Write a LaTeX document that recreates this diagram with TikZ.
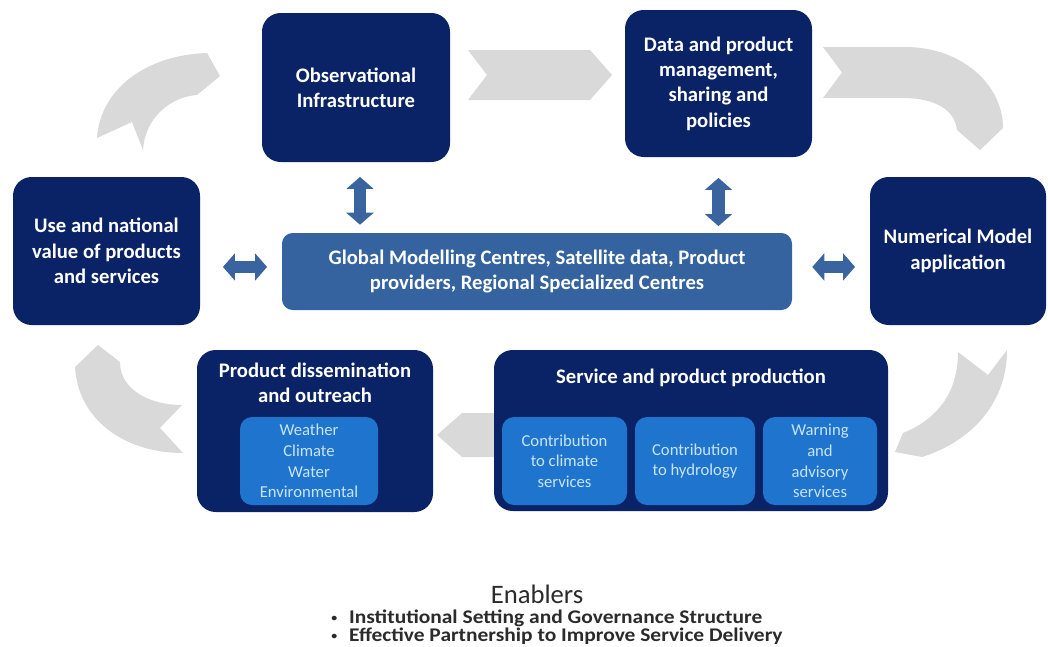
\documentclass[tikz,border=0pt]{standalone}
\usepackage{fontspec}
\setmainfont{Carlito}
\newfontfamily\widefont[FakeStretch=1.11]{Carlito}
\usetikzlibrary{arrows.meta}
\definecolor{navy}{HTML}{0A2366}
\definecolor{midblue}{HTML}{34639F}
\definecolor{lightblue}{HTML}{1F74CD}
\definecolor{pale}{HTML}{C8E4FA}
\definecolor{grayarr}{HTML}{D9D9D9}
\definecolor{dblue}{HTML}{3A64A0}
\definecolor{txt}{HTML}{2B2B2B}
\newcommand{\smallbullet}{\raisebox{1.6pt}{\fontsize{8}{8}\selectfont\textbullet}}
\begin{document}
\begin{tikzpicture}[x=0.75pt,y=-0.75pt,
  box/.style={fill=navy, rounded corners=14pt, text=white, align=center, inner sep=0pt,
    font=\fontsize{15.5}{19}\selectfont\bfseries},
  boxtitle/.style={text=white, align=center, inner sep=0pt, font=\fontsize{15.5}{19}\selectfont\bfseries},
  inbox/.style={fill=lightblue, rounded corners=9pt, text=pale, align=center, inner sep=0pt,
    font=\fontsize{12.5}{15.5}\selectfont},
  globbox/.style={fill=midblue, rounded corners=8pt, text=white, align=center, inner sep=0pt,
    font=\fontsize{15.5}{19}\selectfont\bfseries},
  grayblk/.style={fill=grayarr},
  dbl/.style={draw=dblue, line width=9.5pt, {Triangle[length=9pt,width=20pt]}-{Triangle[length=9pt,width=20pt]}}
]
\useasboundingbox (0,0) rectangle (1048,646);
\fill[white] (0,0) rectangle (1048,646);

% gray cycle arrows
\fill[grayblk] (468,50) -- (590,50) -- (612,75) -- (590,100) -- (468,100) -- (487,75) -- cycle;
\fill[grayblk] (823,47) -- (905,47) .. controls (962,47) and (1003,85) .. (1003,128) -- (980,150) -- (957,130)
  .. controls (955,110) and (935,98) .. (903,98) -- (823,98) -- (842,72.5) -- cycle;
\fill[grayblk] (958,352) -- (988,375) -- (1007,350) .. controls (1007,400) and (975,440) .. (922,457)
  -- (895,452) -- (903,433) .. controls (935,420) and (958,395) .. (958,352) -- cycle;
\fill[grayblk] (437,435) -- (462,413) -- (560,413) -- (540,435) -- (560,457) -- (462,457) -- cycle;
\fill[grayblk] (98,345) -- (120,362) .. controls (120,390) and (150,405) .. (182,405) -- (160,428) -- (183,453)
  .. controls (125,453) and (78,420) .. (75,367) -- cycle;
\fill[grayblk] (97,138) .. controls (100,90) and (145,55) .. (207,53) -- (220,76) -- (197,95)
  .. controls (170,97) and (145,118) .. (143,150) -- (132,122) -- cycle;

% main boxes
\node[box, minimum width=141pt, minimum height=111.75pt] (obs) at (356,87.5) {Observational\\Infrastructure};
\node[box, minimum width=140.25pt, minimum height=110.25pt] (data) at (718.5,83.5) {Data and product\\management,\\sharing and\\policies};
\node[box, minimum width=140.25pt, minimum height=111pt] (use) at (106.5,251) {Use and national\\value of products\\and services};
\node[box, minimum width=132pt, minimum height=111pt] (num) at (958,251) {Numerical Model\\application};
\node[globbox, minimum width=382.5pt, minimum height=57.75pt] (glob) at (537,271.5) {Global Modelling Centres, Satellite data, Product\\providers, Regional Specialized Centres};

\node[box, minimum width=177pt, minimum height=121.5pt] (diss) at (315,431) {};
\node[boxtitle] (disst) at (315,383) {Product dissemination\\and outreach};
\node[inbox, minimum width=103.5pt, minimum height=66pt] (dissin) at (309,461) {Weather\\Climate\\Water\\Environmental};

\node[box, minimum width=295.5pt, minimum height=120.75pt] (serv) at (691,430.5) {};
\node[boxtitle] (servt) at (691,378) {Service and product production};
\node[inbox, minimum width=93.75pt, minimum height=66pt] (s1) at (564.5,461) {Contribution\\to climate\\services};
\node[inbox, minimum width=90pt, minimum height=66pt] (s2) at (695,461) {Contribution\\to hydrology};
\node[inbox, minimum width=85.5pt, minimum height=66pt] (s3) at (820,461) {Warning\\and\\advisory\\services};

% double arrows
\draw[dbl] ([xshift=3pt,yshift=-11pt]obs.south) -- ([xshift=3pt,yshift=6pt]obs.south |- glob.north);
\draw[dbl] ([yshift=-15.5pt]data.south) -- ([yshift=5pt]data.south |- glob.north);
\draw[dbl] ([xshift=17pt,yshift=3.4pt]glob.west -| use.east) -- ([xshift=-11pt,yshift=3.4pt]glob.west);
\draw[dbl] ([xshift=15pt,yshift=3.4pt]glob.east) -- ([xshift=-11pt,yshift=3.4pt]glob.east -| num.west);

% enablers
\node[text=txt, font=\fontsize{20}{24}\selectfont, inner sep=0pt] (en) at (537,594) {Enablers};
\node[text=txt, anchor=west, align=left, inner sep=0pt, font=\widefont\fontsize{14.5}{13.6}\selectfont\bfseries] (bul) at (331,627)
  {\smallbullet\hspace{9pt}Institutional Setting and Governance Structure\\\smallbullet\hspace{9pt}Effective Partnership to Improve Service Delivery};
\end{tikzpicture}
\end{document}
